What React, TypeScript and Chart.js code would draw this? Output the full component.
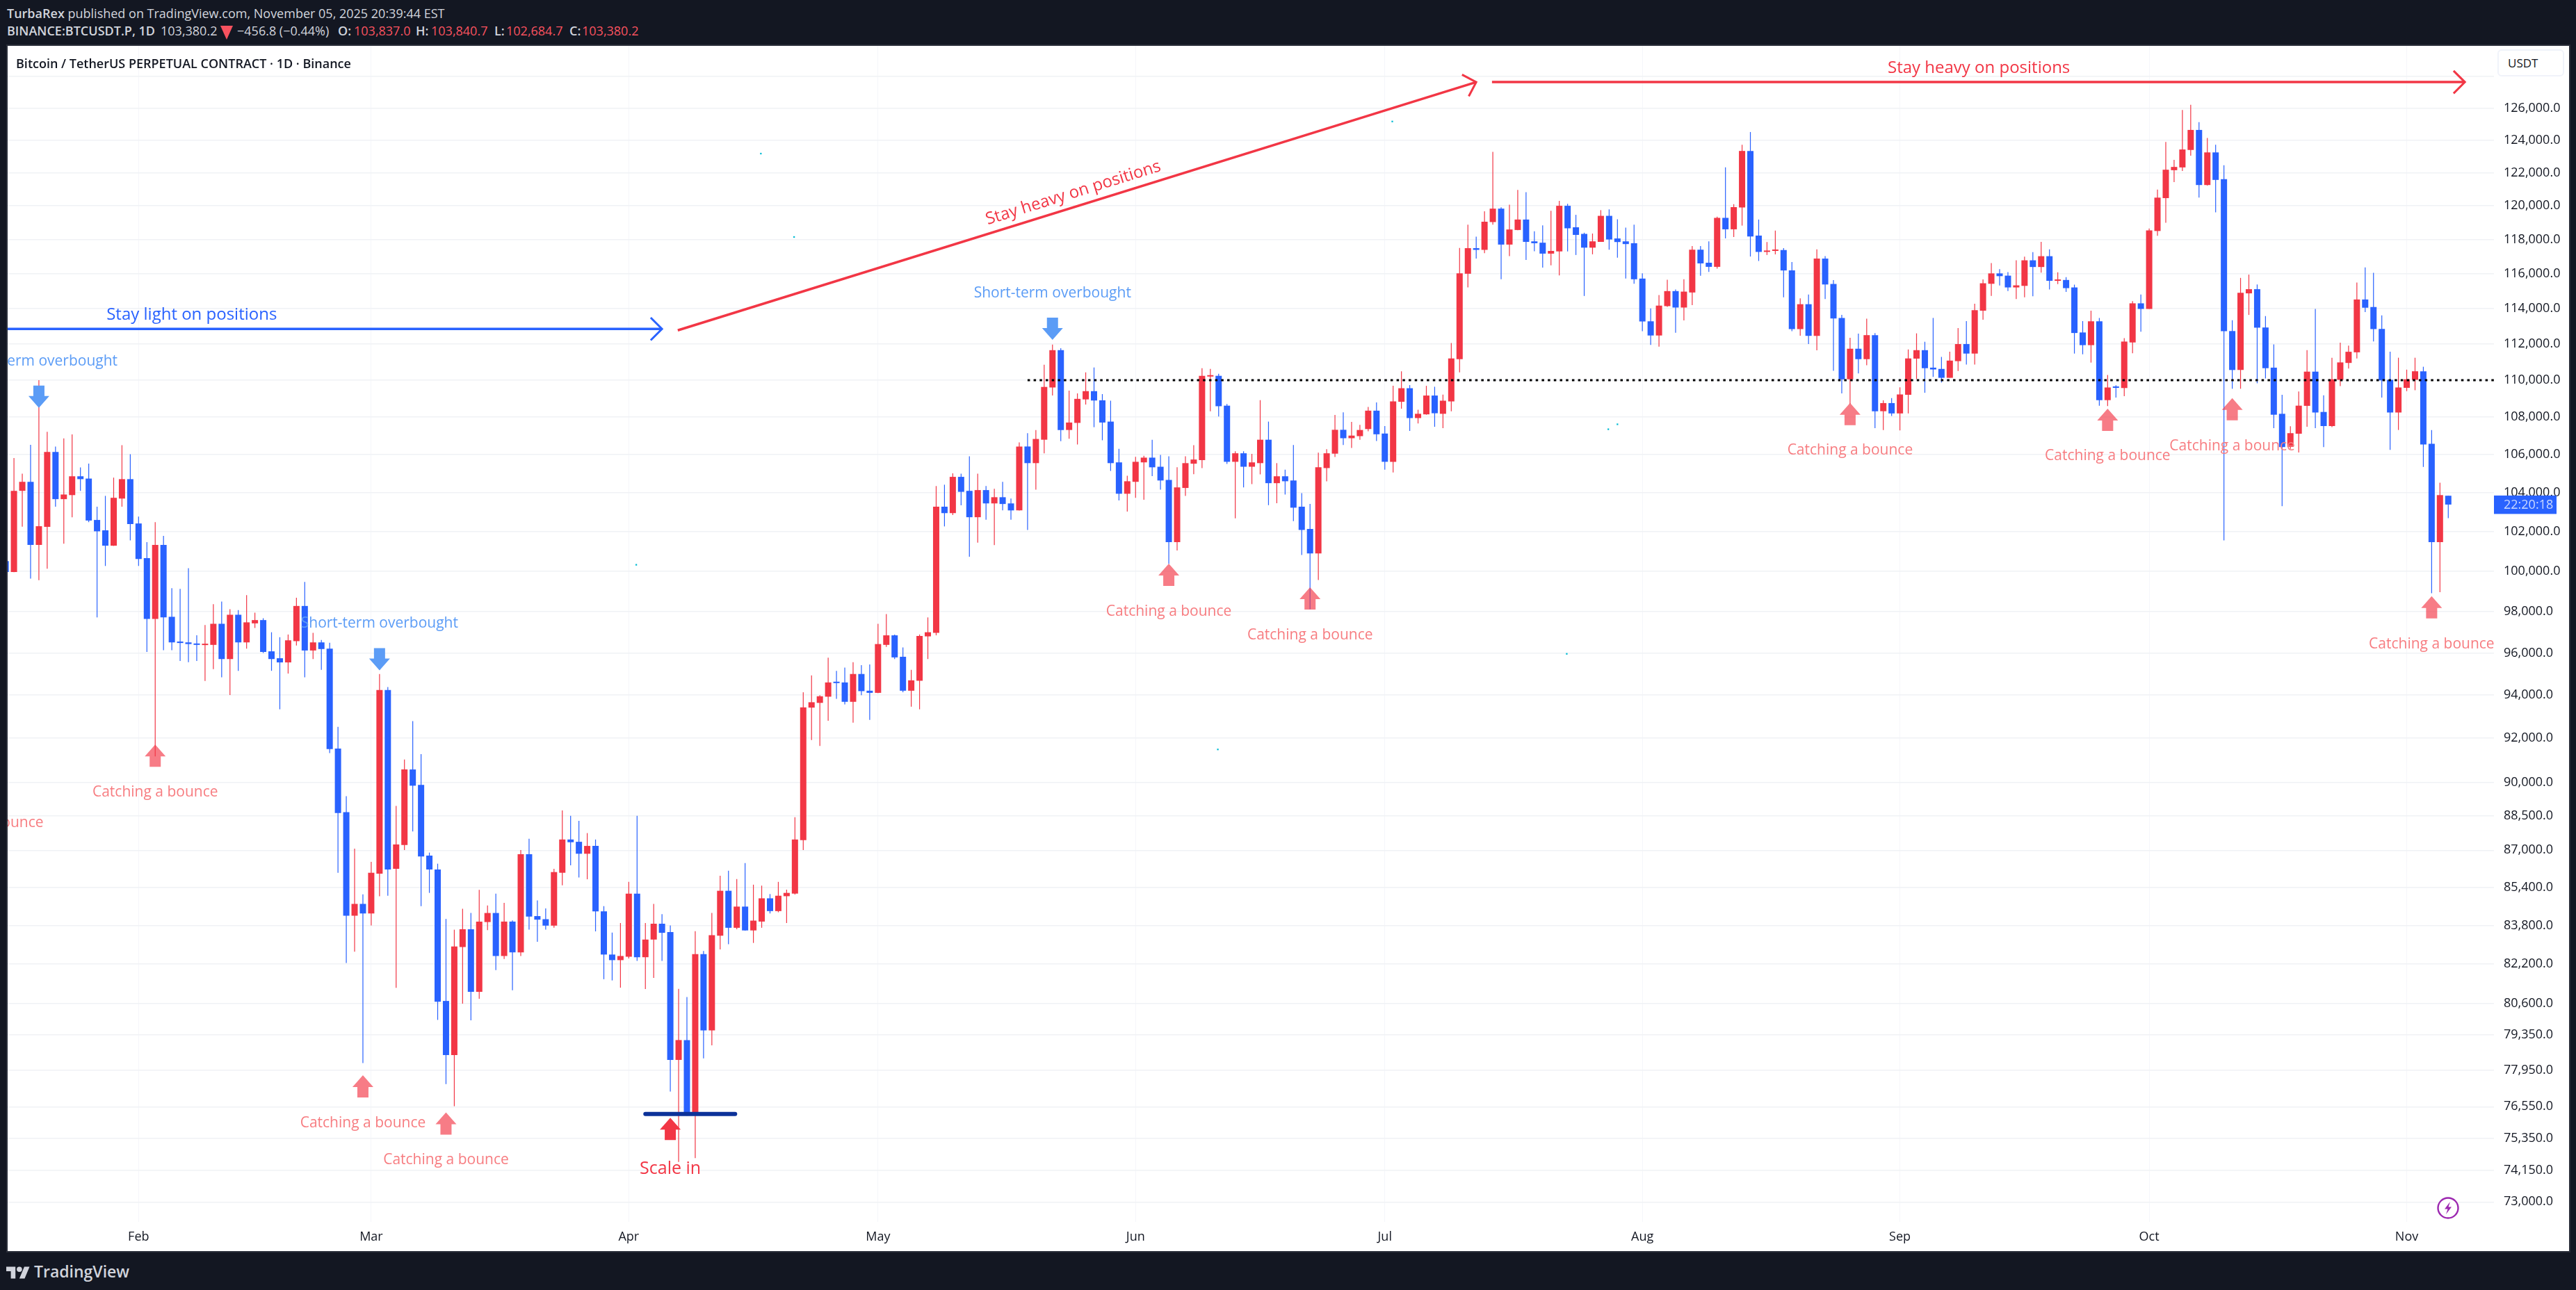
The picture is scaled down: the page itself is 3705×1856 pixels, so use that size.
import { useEffect, useRef } from 'react';
import { Chart, registerables } from 'chart.js';

Chart.register(...registerables);

// BTCUSDT.P daily candles, first entry is Jan 16 (day -16 counted from Feb 1)
const FIRST_DAY = -16;
const opens = [
  100510, 99960, 104090, 104560, 101320, 102240, 106130, 103660, 103870, 104850,
  104730, 102590, 102060, 101280, 103690, 104700, 102410, 100650, 97650, 101320,
  97750, 96550, 96510, 96450, 96380, 96390, 97410, 95710, 97850, 96510,
  97430, 97590, 96080, 95750, 95550, 96570, 98280, 96120, 96510, 96210,
  91530, 88670, 84206, 84704, 84300, 85990, 94247, 86200, 87230, 90580,
  89890, 86770, 86170, 80700, 78550, 82900, 83640, 81070, 83940, 84320,
  82530, 83960, 82680, 86830, 84190, 84060, 83790, 86030, 87470, 87370,
  86850, 87190, 84390, 82590, 82360, 82500, 85140, 82480, 83210, 83870,
  83520, 78360, 79140, 76310, 82610, 79520, 83370, 85260, 83700, 84590,
  83590, 83960, 84940, 84400, 85030, 85140, 87440, 93420, 93640, 93930,
  94620, 94600, 93690, 95000, 94210, 94110, 96390, 96850, 95820, 94210,
  94680, 96800, 96970, 103270, 102940, 104820, 104090, 102730, 104130, 103440,
  103760, 103440, 103080, 106420, 105540, 106780, 109600, 111660, 107300, 107680,
  108950, 109400, 108900, 107750, 105580, 103940, 104560, 105580, 105830, 105350,
  104660, 101460, 104240, 105510, 105700, 110200, 110240, 108610, 105610, 106060,
  105350, 105540, 106780, 104490, 104850, 104630, 103270, 102130, 100890, 105280,
  106040, 107310, 106860, 106970, 107350, 108340, 107110, 105610, 108820, 109560,
  107940, 108140, 109160, 108170, 108840, 111160, 116000, 117490, 117390, 119030,
  119830, 117700, 118560, 119180, 117890, 117810, 117170, 117300, 120000, 118720,
  118330, 117520, 117860, 119400, 118060, 117890, 117780, 115720, 113280, 112480,
  114140, 115000, 114060, 114920, 117400, 116640, 116400, 119280, 118600, 119900,
  123330, 118230, 117270, 117330, 117380, 116200, 112840, 114250, 112460, 116880,
  115410, 113470, 110050, 111740, 111160, 112500, 108310, 108750, 108190, 109200,
  111190, 111660, 110690, 110620, 110130, 111050, 112000, 111470, 113880, 115420,
  116020, 115890, 115210, 115300, 116780, 116390, 117020, 115590, 115640, 115210,
  112650, 111940, 113280, 108910, 109610, 109570, 112090, 114300, 113980, 118500,
  120460, 122150, 122320, 123390, 124630, 121250, 123240, 121610, 112730, 110560,
  114870, 115110, 112930, 110690, 108170, 106400, 107100, 108600, 110470, 108270,
  107510, 110020, 110950, 111540, 114520, 114090, 112850, 110020, 108240, 109580,
  110020, 110490, 106560, 101460, 103837,
];
const highs = [
  100900, 105810, 104990, 106510, 110000, 107200, 106420, 106850, 107060, 105310,
  105520, 103270, 103830, 104780, 106490, 106010, 102760, 101460, 102480, 101780,
  99160, 99120, 100150, 96850, 97350, 98370, 98500, 98120, 98080, 98810,
  97950, 97680, 97000, 96760, 96890, 98680, 99470, 96970, 96630, 96490,
  92530, 89380, 87070, 85110, 86500, 95000, 94380, 88950, 91030, 92790,
  91280, 86900, 86420, 84070, 83620, 84500, 84320, 85300, 84640, 85140,
  84750, 84010, 87010, 87500, 84850, 84510, 86200, 88750, 88510, 88290,
  87750, 87470, 84610, 83500, 83900, 85640, 88510, 83900, 84700, 84270,
  83800, 81190, 80860, 83560, 82740, 84320, 85900, 86120, 85760, 86450,
  85520, 85480, 85120, 85640, 85310, 88450, 94140, 94930, 94000, 95780,
  95150, 95300, 95560, 95420, 95450, 97410, 97880, 96890, 96270, 95200,
  96890, 97720, 104340, 104410, 105000, 104990, 105900, 104990, 104340, 104200,
  104560, 103690, 106640, 107130, 107300, 110850, 111970, 111770, 109430, 109280,
  110430, 110700, 109240, 108880, 106300, 104880, 105870, 105930, 106780, 105970,
  105900, 105320, 105900, 106490, 110660, 110620, 110350, 108700, 106170, 106170,
  106030, 108910, 107750, 105540, 105200, 106500, 103970, 103410, 106090, 106280,
  108110, 108250, 107730, 107580, 108540, 108790, 107510, 109690, 110490, 109730,
  108390, 109690, 109640, 109210, 112060, 117500, 118870, 118170, 119670, 123270,
  119910, 120070, 120950, 120820, 118480, 118830, 119700, 120300, 120120, 119460,
  118400, 118350, 119740, 119790, 119190, 118700, 118870, 116020, 114010, 114770,
  115650, 115090, 115680, 117610, 117610, 117890, 119350, 122320, 120100, 123710,
  124500, 119180, 117850, 118520, 117490, 116680, 114580, 114800, 117420, 117020,
  115630, 113640, 112350, 112590, 113430, 112610, 108900, 109020, 109610, 111700,
  112600, 112130, 113470, 111280, 111570, 112900, 113290, 114280, 115670, 116620,
  116270, 116090, 116780, 116990, 117260, 117860, 117420, 116080, 115800, 115370,
  113290, 113880, 113470, 110290, 109720, 112330, 114430, 114800, 118650, 120980,
  123880, 122780, 125880, 126200, 125110, 124130, 123710, 122450, 113340, 115760,
  115950, 115380, 113580, 111980, 109200, 107500, 109380, 111660, 113980, 109170,
  111240, 112080, 111910, 115490, 116370, 116050, 113610, 111570, 111240, 110580,
  111240, 110740, 107300, 104510, 103840.7,
];
const lows = [
  99700, 99950, 102250, 99630, 99550, 100120, 103270, 101380, 102730, 104090,
  102480, 97720, 100260, 101270, 103270, 101550, 100260, 96050, 91170, 96130,
  96130, 95620, 95560, 95620, 94670, 95230, 94840, 94010, 95150, 96210,
  97210, 96000, 95150, 93340, 95020, 96360, 94840, 95710, 95200, 91320,
  86030, 82245, 82707, 78234, 83800, 85030, 85050, 81227, 87010, 87820,
  84610, 85170, 79940, 77420, 76570, 80590, 79920, 80790, 83600, 81950,
  82410, 81130, 82530, 83620, 83120, 83620, 83700, 85490, 86350, 85830,
  85750, 83550, 81580, 81530, 81240, 82430, 82330, 81180, 81630, 82330,
  77130, 74470, 76210, 74610, 78420, 78930, 82800, 83020, 83640, 83580,
  83070, 83700, 84300, 84350, 83900, 85100, 87010, 91920, 91650, 92810,
  93830, 93570, 92720, 94000, 92850, 94100, 96290, 95710, 94140, 93460,
  93340, 95710, 96850, 102260, 102840, 103340, 100720, 101430, 102600, 101310,
  103080, 102600, 103070, 102080, 104150, 106060, 109160, 106700, 106830, 106530,
  108670, 107450, 106750, 105130, 103590, 103020, 103730, 103630, 104860, 104150,
  100370, 101040, 103830, 104960, 105280, 108310, 108020, 105500, 102670, 104270,
  104440, 104950, 103350, 103450, 103900, 102530, 100810, 98120, 99560, 104590,
  105860, 106500, 106340, 106780, 107230, 106710, 105200, 105050, 108450, 107250,
  107650, 108120, 107470, 107400, 108310, 110430, 115210, 116880, 117200, 118870,
  115680, 117020, 118550, 116800, 117310, 116360, 116490, 115900, 117300, 117090,
  114720, 117130, 117860, 117400, 116930, 115720, 115420, 112720, 111950, 111860,
  114100, 112630, 113330, 114200, 115880, 116100, 116300, 118060, 118150, 118820,
  117000, 116740, 117090, 117130, 114640, 112720, 112470, 112000, 111650, 114540,
  110520, 109280, 108700, 110370, 110820, 107400, 107300, 108050, 107280, 108190,
  110060, 109310, 110180, 109880, 110130, 110510, 110860, 110860, 113370, 114720,
  115320, 115000, 114540, 114640, 114700, 116060, 115090, 115400, 114950, 111470,
  111430, 110970, 108610, 108590, 109050, 109130, 111490, 112690, 113980, 118220,
  118990, 121430, 122100, 123040, 120490, 121220, 119610, 101550, 109530, 109530,
  113640, 109830, 110090, 107400, 103300, 106300, 106100, 107470, 107400, 106390,
  107450, 109680, 110640, 111200, 113800, 112150, 109050, 106240, 107300, 109400,
  109450, 105340, 98910, 98960, 102684.7,
];
const closes = [
  99960, 104090, 104560, 101320, 102270, 106130, 103660, 103900, 104850, 104700,
  102560, 102010, 101280, 103730, 104700, 102380, 100610, 97650, 101320, 97720,
  96510, 96480, 96430, 96390, 96420, 97410, 95710, 97850, 96510, 97480,
  97590, 96050, 95710, 95550, 96610, 98280, 96120, 96510, 96190, 91510,
  88630, 84206, 84704, 84300, 86030, 94247, 86170, 87254, 90580, 89850,
  86730, 86170, 80670, 78550, 82920, 83640, 81070, 83960, 84320, 82530,
  83960, 82680, 86830, 84170, 84040, 83790, 86060, 87470, 87350, 86850,
  87190, 84390, 82590, 82360, 82530, 85140, 82480, 83210, 83870, 83490,
  78360, 79140, 76310, 82610, 79520, 83390, 85260, 83700, 84590, 83590,
  84000, 84940, 84400, 85050, 85170, 87470, 93430, 93670, 93950, 94600,
  94570, 93690, 95000, 94190, 94110, 96430, 96850, 95790, 94210, 94700,
  96820, 97000, 103270, 102940, 104820, 104040, 102730, 104130, 103440, 103760,
  103410, 103080, 106420, 105540, 106820, 109630, 111660, 107300, 107700, 108980,
  109400, 108890, 107700, 105540, 103940, 104590, 105610, 105830, 105320, 104630,
  101460, 104270, 105540, 105730, 110240, 110240, 108580, 105610, 106060, 105350,
  105580, 106780, 104490, 104850, 104590, 103220, 102080, 100890, 105320, 106060,
  107310, 106860, 107000, 107300, 108340, 107070, 105610, 108840, 109560, 107940,
  108170, 109160, 108200, 108880, 111200, 116020, 117490, 117390, 119050, 119830,
  117700, 118590, 119180, 117860, 117780, 117170, 117330, 120000, 118660, 118270,
  117520, 117890, 119400, 118000, 117850, 117730, 115680, 113270, 112480, 114170,
  115000, 114060, 114970, 117400, 116600, 116400, 119280, 118600, 119920, 123330,
  118180, 117270, 117330, 117380, 116190, 112840, 114250, 112460, 116880, 115380,
  113440, 110050, 111740, 111160, 112500, 108310, 108750, 108190, 109220, 111200,
  111660, 110660, 110590, 110130, 111080, 112000, 111470, 113910, 115450, 116020,
  115860, 115210, 115330, 116780, 116390, 117020, 115590, 115640, 115170, 112620,
  111940, 113280, 108910, 109600, 109580, 112140, 114300, 113980, 118540, 120490,
  122180, 122350, 123420, 124630, 121250, 123240, 121560, 112720, 110560, 114900,
  115110, 112920, 110660, 108120, 106390, 107130, 108610, 110470, 108240, 107510,
  110050, 110980, 111570, 114520, 114050, 112840, 109990, 108240, 109600, 110050,
  110490, 106530, 101460, 103870, 103380.2,
];

// axes
const monthLabels = ['Feb', 'Mar', 'Apr', 'May', 'Jun', 'Jul', 'Aug', 'Sep', 'Oct', 'Nov'];
const monthDays = [0, 28, 59, 89, 120, 150, 181, 212, 242, 273];
const priceTicks = [
  128000, 126000, 124000, 122000, 120000, 118000, 116000, 114000, 112000, 110000, 108000,
  106000, 104000, 102000, 100000, 98000, 96000, 94000, 92000, 90000, 88500, 87000,
  85400, 83800, 82200, 80600, 79350, 77950, 76550, 75350, 74150, 73000,
];
const lastPrice = 103380.2;

// drawings on the chart
const bounceDays = [2, 27, 37, 124, 141, 206, 237, 252, 276];
const bounceTips = [91710, 77760, 76335, 100375, 99200, 108760, 108450, 109020, 98760];
const bounceLabelPrices = [89540, 75924, 74540, 98010, 96860, 106215, 105900, 106430, 96430];
const overboughtDays = [-12, 29, 110];
const overboughtTips = [108490, 95170, 112230];
const overboughtLabelPrices = [111020, 97440, 114880];
const markDays = [74.9, 78.9, 59.9, 150.9, 178, 176.9, 129.9, 171.9];
const markPrices = [123166, 118146, 100320, 125155, 107606, 107340, 91490, 95960];

const BLUE = '#2962FF';
const RED = '#F23645';
const PINK = '#F77C80';
const SKY = '#5B9CF6';
const FONT = '"Open Sans"';

const priceFormat = (v: number) =>
  v.toLocaleString('en-US', { minimumFractionDigits: 1, maximumFractionDigits: 1 });

function drawArrow(ctx: CanvasRenderingContext2D, x: number, tip: number, dir: number, color: string) {
  ctx.fillStyle = color;
  ctx.beginPath();
  ctx.moveTo(x, tip);
  ctx.lineTo(x + 15, tip + dir * 17);
  ctx.lineTo(x + 8, tip + dir * 17);
  ctx.lineTo(x + 8, tip + dir * 32);
  ctx.lineTo(x - 8, tip + dir * 32);
  ctx.lineTo(x - 8, tip + dir * 17);
  ctx.lineTo(x - 15, tip + dir * 17);
  ctx.closePath();
  ctx.fill();
}

function drawLabel(ctx: CanvasRenderingContext2D, text: string, x: number, y: number, color: string, size = 21, weight = 400) {
  ctx.fillStyle = color;
  ctx.font = `${weight} ${size}px ${FONT}`;
  ctx.textAlign = 'center';
  ctx.textBaseline = 'middle';
  ctx.fillText(text, x, y);
}

function drawTrend(ctx: CanvasRenderingContext2D, x0: number, y0: number, x1: number, y1: number, color: string) {
  const angle = Math.atan2(y1 - y0, x1 - x0);
  ctx.strokeStyle = color;
  ctx.lineWidth = 3.5;
  ctx.lineCap = 'butt';
  ctx.beginPath();
  ctx.moveTo(x0, y0);
  ctx.lineTo(x1, y1);
  ctx.stroke();
  ctx.lineWidth = 3;
  ctx.beginPath();
  ctx.moveTo(x1 - 23 * Math.cos(angle - Math.PI / 4), y1 - 23 * Math.sin(angle - Math.PI / 4));
  ctx.lineTo(x1, y1);
  ctx.lineTo(x1 - 23 * Math.cos(angle + Math.PI / 4), y1 - 23 * Math.sin(angle + Math.PI / 4));
  ctx.stroke();
}

const notesPlugin = {
  id: 'notes',
  afterDatasetsDraw(chart: any) {
    const { ctx, chartArea, scales } = chart;
    const px = (d: number) => scales.x.getPixelForValue(d);
    const py = (p: number) => scales.y.getPixelForValue(p);

    ctx.save();
    ctx.beginPath();
    ctx.rect(chartArea.left, chartArea.top, chartArea.right - chartArea.left, chartArea.bottom - chartArea.top);
    ctx.clip();

    // dotted 110k level
    ctx.strokeStyle = '#000000';
    ctx.lineWidth = 3;
    ctx.setLineDash([3.5, 5.2]);
    ctx.beginPath();
    ctx.moveTo(px(107), py(110000));
    ctx.lineTo(chartArea.right, py(110000));
    ctx.stroke();
    ctx.setLineDash([]);

    // trend arrows
    drawTrend(ctx, chartArea.left, py(112850), px(63), py(112850), BLUE);
    drawTrend(ctx, px(64.9), py(112770), px(161), py(127640), RED);
    drawTrend(ctx, px(162.9), py(127640), px(280), py(127640), RED);
    drawLabel(ctx, 'Stay light on positions', px(6.4), py(113625), BLUE, 24, 500);
    drawLabel(ctx, 'Stay heavy on positions', px(221.5), py(128530), RED, 24, 500);
    const slope = Math.atan2(py(127640) - py(112770), px(161) - px(64.9));
    ctx.save();
    ctx.translate(px(112.5), py(120760));
    ctx.rotate(slope);
    drawLabel(ctx, 'Stay heavy on positions', 0, 0, RED, 24, 500);
    ctx.restore();

    // scale in level
    ctx.strokeStyle = '#0C3299';
    ctx.lineWidth = 6;
    ctx.lineCap = 'round';
    ctx.beginPath();
    ctx.moveTo(px(61), py(76273));
    ctx.lineTo(px(71.8), py(76273));
    ctx.stroke();
    drawArrow(ctx, px(64), py(76130), 1, RED);
    drawLabel(ctx, 'Scale in', px(64), py(74210), RED, 25, 500);

    bounceDays.forEach((d, i) => {
      drawArrow(ctx, px(d), py(bounceTips[i]), 1, 'rgba(242, 54, 69, 0.65)');
      drawLabel(ctx, 'Catching a bounce', px(d), py(bounceLabelPrices[i]), PINK);
    });
    drawLabel(ctx, 'Catching a bounce', px(-19), py(88190), PINK);
    overboughtDays.forEach((d, i) => {
      drawArrow(ctx, px(d), py(overboughtTips[i]), -1, SKY);
      drawLabel(ctx, 'Short-term overbought', px(d), py(overboughtLabelPrices[i]), SKY);
    });
    ctx.restore();

    // countdown tag on the price axis
    const tagY = py(lastPrice);
    ctx.fillStyle = BLUE;
    ctx.fillRect(chartArea.right, tagY - 13, 90, 26.5);
    ctx.fillStyle = '#C9D8FF';
    ctx.font = `18px ${FONT}`;
    ctx.textAlign = 'left';
    ctx.textBaseline = 'middle';
    ctx.fillText('22:20:18', chartArea.right + 14, tagY + 0.5);
  },
};

export default function App() {
  const chartRef = useRef<HTMLCanvasElement>(null);

  useEffect(() => {
    document.body.style.margin = '0';
    if (!chartRef.current) return;

    const days = opens.map((_, i) => FIRST_DAY + i);
    const colors = opens.map((o, i) => (closes[i] >= o ? RED : BLUE));

    const chart = new Chart(chartRef.current, {
      type: 'bar',
      data: {
        datasets: [
          {
            label: 'Body',
            data: days.map((d, i) => ({ x: d, y: [Math.min(opens[i], closes[i]), Math.max(opens[i], closes[i])] })),
            backgroundColor: colors,
            barThickness: 9,
            minBarLength: 2,
            grouped: false,
            inflateAmount: 0,
            borderWidth: 0,
          },
          {
            label: 'Wick',
            data: days.map((d, i) => ({ x: d, y: [lows[i], highs[i]] })),
            backgroundColor: colors,
            barThickness: 1.2,
            grouped: false,
            inflateAmount: 0,
            borderWidth: 0,
          },
          {
            type: 'scatter',
            label: 'Marks',
            data: markDays.map((d, i) => ({ x: d, y: markPrices[i] })),
            backgroundColor: '#00BCD4',
            borderWidth: 0,
            pointStyle: 'rect',
            pointRadius: 1.6,
          },
        ] as any,
      },
      options: {
        responsive: false,
        animation: false,
        devicePixelRatio: 1,
        layout: { padding: 0, autoPadding: false },
        plugins: { legend: { display: false }, tooltip: { enabled: false } },
        scales: {
          x: {
            type: 'linear',
            min: -15.76,
            max: 283.5,
            offset: false,
            grid: { color: '#F5F6FA', lineWidth: 1, drawTicks: false, offset: false },
            border: { display: false },
            afterBuildTicks: (axis: any) => { axis.ticks = monthDays.map((value) => ({ value })); },
            afterFit: (axis: any) => { axis.height = 42; axis.paddingLeft = 0; axis.paddingRight = 0; },
            ticks: {
              autoSkip: false,
              maxRotation: 0,
              padding: 11,
              color: '#131722',
              font: { family: FONT, size: 18 },
              callback: (v: any) => monthLabels[monthDays.indexOf(v)] ?? '',
            },
          },
          y: {
            type: 'logarithmic',
            position: 'right',
            bounds: 'data',
            min: 72276,
            max: 129968,
            grid: { color: '#F0F2F5', lineWidth: 1.5, drawTicks: false },
            border: { display: false },
            afterBuildTicks: (axis: any) => { axis.ticks = priceTicks.map((value) => ({ value })); },
            afterFit: (axis: any) => { axis.width = 108; axis.paddingTop = 0; axis.paddingBottom = 0; },
            ticks: {
              autoSkip: false,
              padding: 14,
              crossAlign: 'near',
              color: '#131722',
              font: { family: FONT, size: 18 },
              callback: (v: any) => (v === 128000 ? '' : priceFormat(v)),
            },
          },
        },
      } as any,
      plugins: [notesPlugin],
    });

    return () => { chart.destroy(); };
  }, []);

  return (
    <div style={{ position: 'relative', width: 3705, height: 1856, background: '#131722', overflow: 'hidden', fontFamily: FONT }}>
      <div style={{ position: 'absolute', left: 10, top: 6, fontSize: 18, lineHeight: '26px', color: '#D1D4DC', whiteSpace: 'nowrap' }}>
        <b style={{ fontWeight: 600 }}>TurbaRex</b> published on TradingView.com, November 05, 2025 20:39:44 EST
      </div>
      <div style={{ position: 'absolute', left: 0, top: 31, height: 26, fontSize: 18, lineHeight: '26px', color: '#D1D4DC', whiteSpace: 'nowrap' }}>
        <b style={{ position: 'absolute', left: 10, fontWeight: 600 }}>BINANCE:BTCUSDT.P, 1D</b>
        <span style={{ position: 'absolute', left: 231 }}>103,380.2</span>
        <span style={{ position: 'absolute', left: 317, top: 6, width: 0, height: 0, borderLeft: '9px solid transparent', borderRight: '9px solid transparent', borderTop: '20px solid #F7525F' }} />
        <span style={{ position: 'absolute', left: 341 }}>−456.8 (−0.44%)</span>
        <b style={{ position: 'absolute', left: 486, fontWeight: 600 }}>O:</b>
        <span style={{ position: 'absolute', left: 509, color: '#F7525F' }}>103,837.0</span>
        <b style={{ position: 'absolute', left: 598, fontWeight: 600 }}>H:</b>
        <span style={{ position: 'absolute', left: 620, color: '#F7525F' }}>103,840.7</span>
        <b style={{ position: 'absolute', left: 711, fontWeight: 600 }}>L:</b>
        <span style={{ position: 'absolute', left: 728, color: '#F7525F' }}>102,684.7</span>
        <b style={{ position: 'absolute', left: 819, fontWeight: 600 }}>C:</b>
        <span style={{ position: 'absolute', left: 837, color: '#F7525F' }}>103,380.2</span>
      </div>

      <div style={{ position: 'absolute', left: 9, top: 64, width: 3688, height: 1738, background: '#2A2E39' }} />
      <div style={{ position: 'absolute', left: 11, top: 66, width: 3684, height: 1734, background: '#FFFFFF' }}>
        <canvas ref={chartRef} width={3684} height={1734} style={{ display: 'block' }} />
      </div>

      <div style={{ position: 'absolute', left: 23, top: 78, fontSize: 18, lineHeight: '26px', fontWeight: 600, color: '#131722', whiteSpace: 'nowrap' }}>
        Bitcoin / TetherUS PERPETUAL CONTRACT · 1D · Binance
      </div>
      <div style={{ position: 'absolute', left: 3592, top: 71, width: 96, height: 39, boxSizing: 'border-box', border: '2px solid #F0F3FA', borderRadius: 6, background: '#FFFFFF', fontSize: 17, lineHeight: '35px', paddingLeft: 13, color: '#131722' }}>
        USDT
      </div>

      <svg style={{ position: 'absolute', left: 3504, top: 1721 }} width="34" height="34" viewBox="0 0 34 34">
        <circle cx="17" cy="17" r="14.5" fill="#FFFFFF" stroke="#9C27B0" strokeWidth="2.4" />
        <path d="M20 8 L12 18.5 H16.5 L14 26 L22 15.5 H17.5 Z" fill="#9C27B0" />
      </svg>

      <svg style={{ position: 'absolute', left: 9, top: 1821 }} width="34" height="20" viewBox="0 4 36 18">
        <path d="M14 22H7V11H0V4h14v18zM28 22h-8l7.5-18h8L28 22z" fill="#D1D4DC" />
        <circle cx="20" cy="8" r="4" fill="#D1D4DC" />
      </svg>
      <div style={{ position: 'absolute', left: 49, top: 1813, fontSize: 23, lineHeight: '32px', fontWeight: 600, color: '#D1D4DC', whiteSpace: 'nowrap' }}>
        TradingView
      </div>
    </div>
  );
}
